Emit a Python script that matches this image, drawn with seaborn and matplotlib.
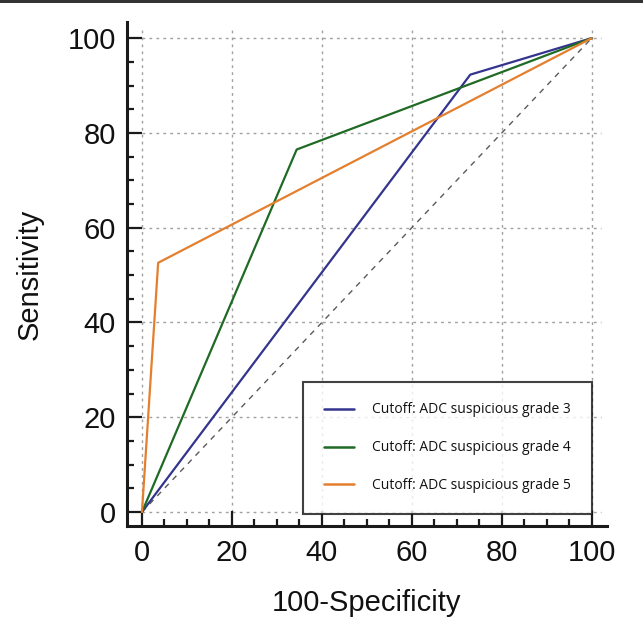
import pandas as pd
import numpy as np
import matplotlib
matplotlib.use('Agg')
import matplotlib.pyplot as plt
import seaborn as sns
from matplotlib.patches import Rectangle

# ROC points (100-Specificity, Sensitivity)
fpr_grade3 = [0, 73.0, 100]
tpr_grade3 = [0, 92.3, 100]
fpr_grade4 = [0, 34.4, 100]
tpr_grade4 = [0, 76.5, 100]
fpr_grade5 = [0, 3.6, 100]
tpr_grade5 = [0, 52.6, 100]

labels = ['Cutoff: ADC suspicious grade 3',
          'Cutoff: ADC suspicious grade 4',
          'Cutoff: ADC suspicious grade 5']
ticks = [0, 20, 40, 60, 80, 100]
ref_line = [0, 100]

COLORS = ['#34348f', '#1f6a25', '#e47f2e']

sns.set_style('white')
plt.rcParams['font.family'] = ['Liberation Sans', 'DejaVu Sans']
plt.rcParams['text.color'] = '#111111'
plt.rcParams['axes.labelcolor'] = '#111111'
plt.rcParams['xtick.color'] = '#111111'
plt.rcParams['ytick.color'] = '#111111'

df = pd.concat([
    pd.DataFrame({'fpr': fpr_grade3, 'tpr': tpr_grade3, 'cutoff': labels[0]}),
    pd.DataFrame({'fpr': fpr_grade4, 'tpr': tpr_grade4, 'cutoff': labels[1]}),
    pd.DataFrame({'fpr': fpr_grade5, 'tpr': tpr_grade5, 'cutoff': labels[2]}),
], ignore_index=True)

fig = plt.figure(figsize=(6.43, 6.19), dpi=100)
ax = fig.add_axes([0.1975, 0.1502, 0.7465, 0.8142])

# dotted grid limited to the 0-100 box
ax.vlines(ticks, 0, 102, colors='#a0a0a0', linestyles=(0, (2, 3)), linewidth=1.0, zorder=0)
ax.hlines(ticks, 0, 102, colors='#a0a0a0', linestyles=(0, (2, 3)), linewidth=1.0, zorder=0)

# chance diagonal
ax.plot(ref_line, ref_line, color='#5a5a5a', linestyle=(0, (4, 4)), linewidth=1.0, zorder=1)

sns.lineplot(data=df, x='fpr', y='tpr', hue='cutoff', palette=COLORS,
             sort=False, estimator=None, linewidth=1.6, ax=ax, zorder=2)

ax.set_xlim(-3.33, 103.4)
ax.set_ylim(-2.95, 103.4)
ax.set_xticks(ticks)
ax.set_yticks(ticks)
ax.set_xticks(np.arange(0, 101, 5), minor=True)
ax.set_yticks(np.arange(0, 101, 5), minor=True)

for side in ['top', 'right']:
    ax.spines[side].set_visible(False)
for side in ['left', 'bottom']:
    ax.spines[side].set_linewidth(2.2)
    ax.spines[side].set_color('#1a1a1a')

ax.tick_params(which='both', bottom=True, left=True, top=False, right=False)
ax.tick_params(which='major', direction='in', length=11, width=1.6,
               labelsize=21, pad=8, color='#1a1a1a')
ax.tick_params(which='minor', direction='in', length=5, width=1.6, color='#1a1a1a')
ax.tick_params(axis='x', which='major', pad=9)

ax.set_xlabel('100-Specificity', fontsize=21, labelpad=16)
ax.set_ylabel('Sensitivity', fontsize=21, labelpad=17)

leg = ax.legend(loc='lower right', bbox_to_anchor=(0.9688, 0.0236),
                frameon=True, fancybox=False, borderpad=1.5,
                labelspacing=1.65, handlelength=2.2, handletextpad=1.3,
                borderaxespad=0, prop={'family': ['Open Sans', 'DejaVu Sans'], 'size': 10})
leg.get_frame().set_edgecolor('#111111')
leg.get_frame().set_linewidth(1.5)
for line in leg.get_lines():
    line.set_linewidth(1.8)

# thin dark border along the top of the picture
fig.patches.append(Rectangle((0, 0.995), 1, 0.005, transform=fig.transFigure,
                             facecolor='#333333', edgecolor='none'))

plt.savefig('out.png', dpi=100)
plt.close()
